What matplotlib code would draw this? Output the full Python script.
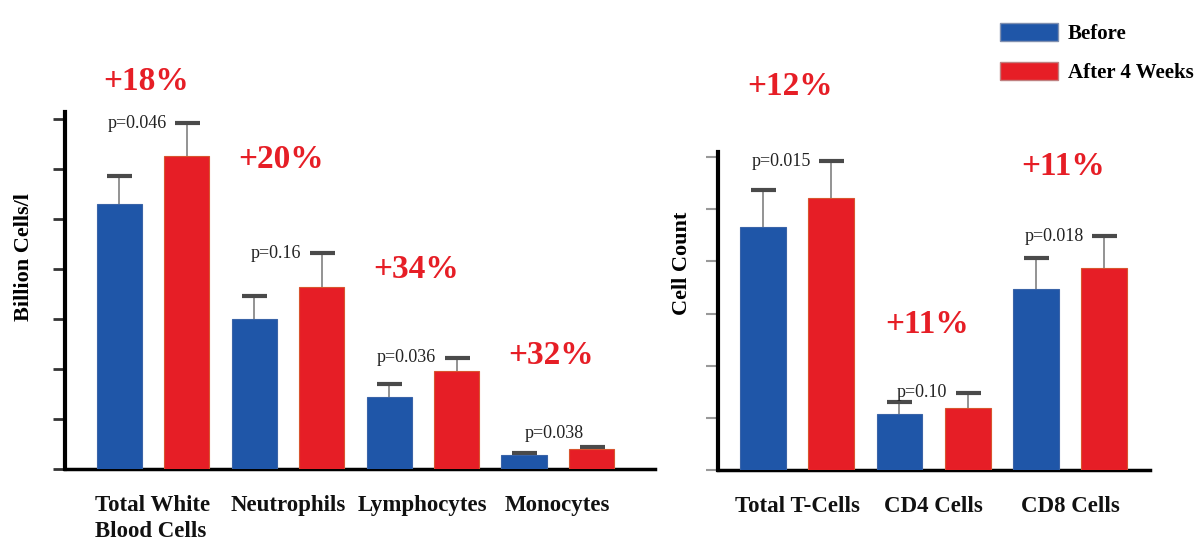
import numpy as np
import matplotlib.pyplot as plt
from matplotlib.patches import Patch

# Data (in tick units)
blood_cats = ['Total White\nBlood Cells', 'Neutrophils', 'Lymphocytes', 'Monocytes']
blood_before = [5.30, 3.00, 1.44, 0.28]
blood_after = [6.26, 3.64, 1.96, 0.40]
blood_err_before = [0.56, 0.46, 0.26, 0.05]
blood_err_after = [0.66, 0.68, 0.26, 0.04]
blood_p = ['p=0.046', 'p=0.16', 'p=0.036', 'p=0.038']
blood_pct = ['+18%', '+20%', '+34%', '+32%']

tcell_cats = ['Total T-Cells', 'CD4 Cells', 'CD8 Cells']
tcell_before = [4.67, 1.08, 3.48]
tcell_after = [5.21, 1.19, 3.87]
tcell_err_before = [0.70, 0.23, 0.58]
tcell_err_after = [0.71, 0.29, 0.61]
tcell_p = ['p=0.015', 'p=0.10', 'p=0.018']
tcell_pct = ['+12%', '+11%', '+11%']

# label heights for the percentage texts
blood_pct_y = [7.74, 6.20, 4.00, 2.26]
tcell_pct_y = [7.36, 2.80, 5.82]

BLUE = '#1f56a8'
RED = '#e61e26'
SERIF = 'Liberation Serif'

fig = plt.figure(figsize=(11.97, 5.43), dpi=100)
fig.patch.set_facecolor('white')

ax1 = fig.add_axes([65 / 1197, 1 - 469 / 543, 590 / 1197, 357 / 543])
ax2 = fig.add_axes([718 / 1197, 1 - 470 / 543, 432 / 1197, 318 / 543])


def draw_panel(ax, cats, before, after, eb, ea, pvals, pcts, pct_y, ylabel, ymax, xlim, p_special=None):
    x = np.arange(len(cats))
    w = 0.335
    off = 0.25
    ax.bar(x - off, before, w, color=BLUE, edgecolor='#3a64a8', linewidth=0.8, zorder=3)
    ax.bar(x + off, after, w, color=RED, edgecolor='#d8552f', linewidth=0.8, zorder=3)
    for xs, vals, errs in [(x - off, before, eb), (x + off, after, ea)]:
        _, caps, _ = ax.errorbar(xs, vals, yerr=[np.zeros(len(vals)), errs], fmt='none',
                                 ecolor='#8a8a8a', elinewidth=1.3, capsize=9, capthick=3, zorder=2)
        caps[0].set_visible(False)
        caps[1].set_markeredgecolor('#4a4a4a')
    for i in range(len(cats)):
        top = after[i] + ea[i]
        if p_special is not None and i == p_special:
            ax.text(x[i] - 0.03, top + 0.27, pvals[i], ha='center', va='center',
                    fontsize=13, family=SERIF, color='#222222', zorder=4)
        else:
            ax.text(x[i] + off - 0.15, top, pvals[i], ha='right', va='center',
                    fontsize=13, family=SERIF, color='#222222', zorder=4)
        ax.text(x[i] - 0.05, pct_y[i], pcts[i], ha='center', va='center', fontsize=24,
                fontweight='bold', family=SERIF, color=RED, clip_on=False)
    ax.set_xlim(*xlim)
    ax.set_ylim(0, ymax)
    ax.set_xticks(x)
    ax.set_xticklabels(cats, fontsize=16.5, fontweight='bold', family=SERIF,
                       multialignment='left', linespacing=1.3, color='#111111')
    ax.tick_params(axis='x', length=0, pad=19)
    ax.set_yticks(np.arange(0, int(ymax) + 1))
    ax.set_yticklabels([])
    ax.tick_params(axis='y', length=9, width=2, color='#333333')
    for s in ['top', 'right']:
        ax.spines[s].set_visible(False)
    ax.spines['left'].set_linewidth(3)
    ax.spines['bottom'].set_linewidth(2.5)
    ax.set_ylabel(ylabel, fontsize=16, fontweight='bold', family=SERIF)
    ax.set_facecolor('white')


draw_panel(ax1, blood_cats, blood_before, blood_after, blood_err_before, blood_err_after,
           blood_p, blood_pct, blood_pct_y, 'Billion Cells/l', 7.14, (-0.652, 3.72), p_special=3)
draw_panel(ax2, tcell_cats, tcell_before, tcell_after, tcell_err_before, tcell_err_after,
           tcell_p, tcell_pct, tcell_pct_y, 'Cell Count', 6.1, (-0.579, 2.586))

ax1.yaxis.set_label_coords(-0.052, 0.594)
ax2.yaxis.set_label_coords(-0.060, 0.65)
ax2.tick_params(axis='y', color='#999999', width=1.5)

# Legend
handles = [Patch(facecolor=BLUE, edgecolor='#8090b0'), Patch(facecolor=RED, edgecolor='#c08080')]
fig.legend(handles, ['Before', 'After 4 Weeks'], loc='upper left',
           bbox_to_anchor=(1000 / 1197, 1 - 23 / 543), frameon=False,
           prop={'family': SERIF, 'weight': 'bold', 'size': 15},
           handlelength=2.8, handleheight=0.95, handletextpad=0.45,
           labelspacing=0.85, borderpad=0, borderaxespad=0)

fig.savefig('out.png', dpi=100)
